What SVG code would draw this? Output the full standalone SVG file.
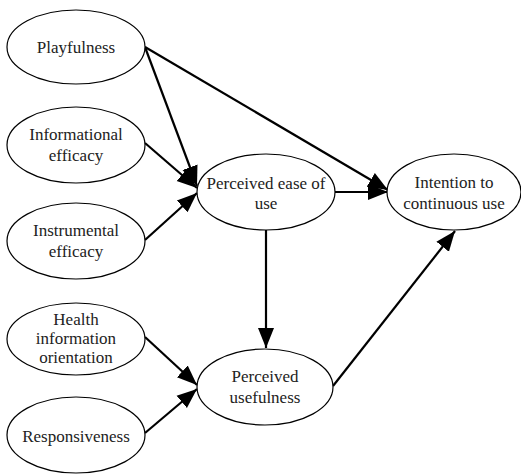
<svg xmlns="http://www.w3.org/2000/svg" width="521" height="474" viewBox="0 0 521 474">
<style>
.n ellipse{fill:#fff;stroke:#000;stroke-width:1.2}
.n text{font-family:'Liberation Serif','DejaVu Serif',serif;font-size:17px;fill:#222;text-anchor:middle}
#edges line{stroke:#000;stroke-width:2.2;fill:none;marker-end:url(#ah)}
</style>
<defs>
<marker id="ah" markerUnits="userSpaceOnUse" markerWidth="22" markerHeight="22" viewBox="0 0 22 22" refX="20" refY="11" orient="auto">
<path d="M0,3 L20,11 L0,19 Z" fill="#000"/>
</marker>
</defs>
<g id="edges">
<line x1="145" y1="47" x2="197" y2="186"/>
<line x1="145" y1="47" x2="388" y2="190"/>
<line x1="145" y1="143" x2="197" y2="188"/>
<line x1="145" y1="240" x2="197" y2="193"/>
<line x1="335" y1="192" x2="388" y2="192"/>
<line x1="266" y1="230" x2="266" y2="348"/>
<line x1="145" y1="337" x2="197" y2="385"/>
<line x1="145" y1="433" x2="197" y2="389"/>
<line x1="333" y1="386" x2="455" y2="231"/>
</g>
<g id="playfulness" class="n"><ellipse cx="76" cy="47" rx="69" ry="37"/><text x="76" y="53">Playfulness</text></g>
<g id="informational" class="n"><ellipse cx="76" cy="145" rx="69" ry="38"/><text x="76" y="140">Informational</text><text x="76" y="161">efficacy</text></g>
<g id="instrumental" class="n"><ellipse cx="76" cy="241" rx="69" ry="38"/><text x="76" y="236">Instrumental</text><text x="76" y="257">efficacy</text></g>
<g id="health" class="n"><ellipse cx="76" cy="339" rx="69" ry="36"/><text x="76" y="325">Health</text><text x="76" y="344">information</text><text x="76" y="363">orientation</text></g>
<g id="responsiveness" class="n"><ellipse cx="76" cy="435" rx="69" ry="38"/><text x="76" y="442">Responsiveness</text></g>
<g id="peou" class="n"><ellipse cx="266" cy="192" rx="69" ry="38"/><text x="266" y="189">Perceived ease of</text><text x="266" y="209">use</text></g>
<g id="pu" class="n"><ellipse cx="265" cy="387" rx="68" ry="38"/><text x="265" y="382">Perceived</text><text x="265" y="403">usefulness</text></g>
<g id="intention" class="n"><ellipse cx="454" cy="192" rx="67" ry="38"/><text x="454" y="188">Intention to</text><text x="454" y="209">continuous use</text></g>
</svg>
